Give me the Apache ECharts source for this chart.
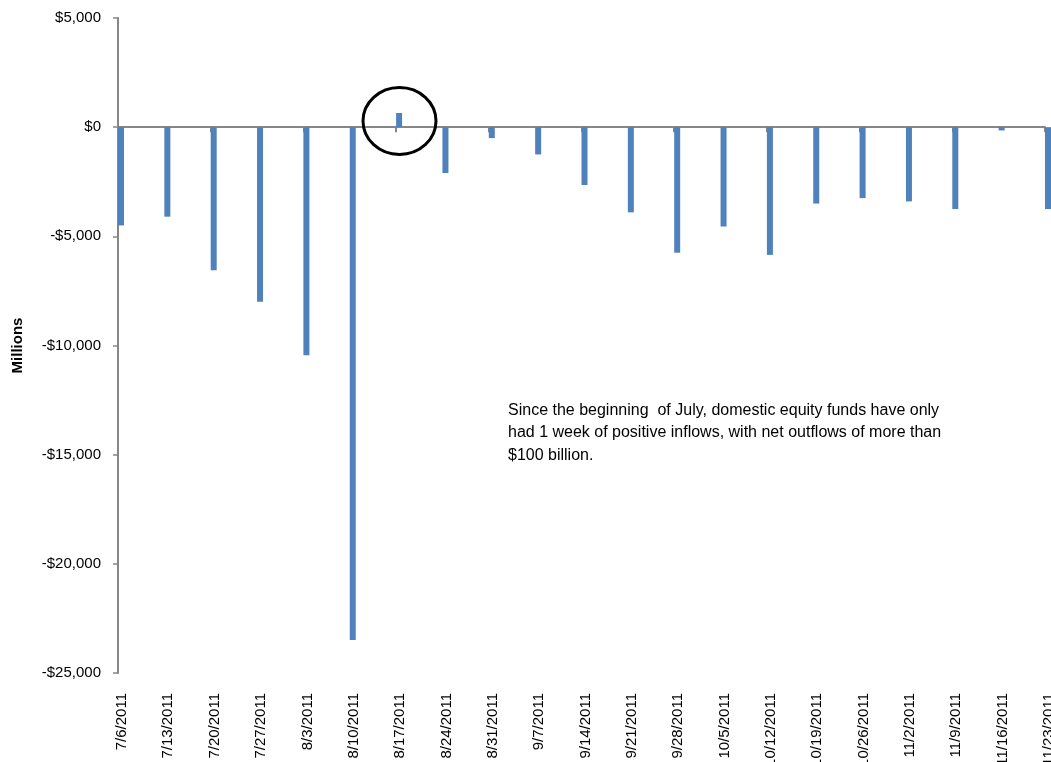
<!DOCTYPE html>
<html>
<head>
<meta charset="utf-8">
<script src="https://cdn.jsdelivr.net/npm/echarts@6/dist/echarts.min.js"></script>
<style>
html,body{margin:0;padding:0;background:#fff;}
#chart{width:1051px;height:762px;}
</style>
</head>
<body>
<div id="chart"></div>
<script>
const categories = ['7/6/2011','7/13/2011','7/20/2011','7/27/2011','8/3/2011','8/10/2011','8/17/2011','8/24/2011','8/31/2011','9/7/2011','9/14/2011','9/21/2011','9/28/2011','10/5/2011','10/12/2011','10/19/2011','10/26/2011','11/2/2011','11/9/2011','11/16/2011','11/23/2011'];
const flows = [-4500,-4100,-6550,-8000,-10450,-23490,650,-2100,-500,-1250,-2650,-3900,-5750,-4550,-5850,-3500,-3250,-3400,-3750,-150,-3750];
const yTicks = { min: -25000, max: 5000, interval: 5000 };
const note = 'Since the beginning  of July, domestic equity funds have only\nhad 1 week of positive inflows, with net outflows of more than\n$100 billion.';

const FONT = '"Liberation Sans", Arial, sans-serif';
const chart = echarts.init(document.getElementById('chart'));

function fmt(v) {
  const s = Math.abs(v).toLocaleString('en-US');
  return (v < 0 ? '-$' : '$') + s;
}

chart.setOption({
  animation: false,
  backgroundColor: '#ffffff',
  grid: { left: 118, right: 6, top: 18, bottom: 89, containLabel: false, outerBoundsMode: 'none' },
  xAxis: [
    {
      type: 'category',
      data: categories,
      boundaryGap: false,
      position: 'bottom',
      axisLine: { show: false, onZero: false },
      axisTick: { show: false },
      axisLabel: {
        interval: 0, rotate: 90, margin: 20,
        verticalAlign: 'top', lineHeight: 8,
        color: '#000', fontFamily: FONT, fontSize: 15
      },
      splitLine: { show: false }
    },
    {
      type: 'category',
      data: categories,
      boundaryGap: false,
      position: 'bottom',
      axisLine: { show: true, onZero: true, lineStyle: { color: '#868686', width: 2 } },
      axisTick: { show: true, alignWithLabel: true, length: 5, inside: false, lineStyle: { color: '#868686', width: 2 } },
      axisLabel: { show: false },
      splitLine: { show: false }
    }
  ],
  yAxis: {
    type: 'value',
    min: yTicks.min, max: yTicks.max, interval: yTicks.interval,
    name: 'Millions',
    nameLocation: 'middle',
    nameRotate: 90,
    nameGap: 93,
    nameTextStyle: { color: '#000', fontFamily: FONT, fontSize: 15, fontWeight: 'bold' },
    axisLine: { show: true, lineStyle: { color: '#868686', width: 2 } },
    axisTick: { show: true, length: 5, lineStyle: { color: '#868686', width: 1.5 } },
    axisLabel: { color: '#000', fontFamily: FONT, fontSize: 15, margin: 17, formatter: fmt },
    splitLine: { show: false }
  },
  series: [
    {
      type: 'bar', xAxisIndex: 0, data: categories.map(() => null),
      barWidth: 6, barGap: '0%', itemStyle: { color: 'transparent' }, silent: true
    },
    {
      type: 'bar', xAxisIndex: 0, data: flows,
      barWidth: 6, barGap: '0%', clip: false,
      itemStyle: { color: '#4F81BD' }
    }
  ],
  graphic: [
    {
      type: 'ellipse',
      shape: { cx: 399.5, cy: 121, rx: 36.5, ry: 33.5 },
      style: { fill: 'none', stroke: '#000', lineWidth: 3 },
      z: 100
    },
    {
      type: 'text',
      left: 508, top: 399,
      style: { text: note, fill: '#000', font: '16px ' + FONT, lineHeight: 22.5 },
      z: 100
    }
  ]
});
</script>
</body>
</html>
